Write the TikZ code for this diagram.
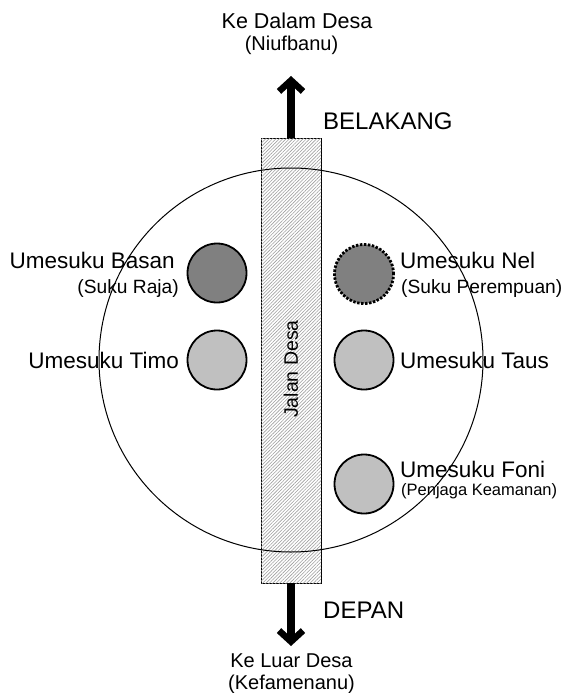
\documentclass[tikz,border=0pt]{standalone}
\usepackage{fontspec}
\setmainfont{Liberation Sans}
\usetikzlibrary{arrows.meta,patterns.meta}

\definecolor{hutdark}{HTML}{808080}
\definecolor{hutlight}{HTML}{C0C0C0}

\tikzset{
  hut/.style={circle, draw=black, line width=1.8pt, minimum size=59pt, inner sep=0pt},
  darkhut/.style={hut, fill=hutdark},
  lighthut/.style={hut, fill=hutlight},
  dottedhut/.style={darkhut, line width=2.8pt, dash pattern=on 2.4pt off 1.6pt},
  roadstrip/.style={draw=black, line width=0.9pt, fill=white,
    postaction={pattern={Lines[angle=45, distance=2.4pt, line width=0.6pt]}, pattern color=gray!75},
    minimum width=60pt, minimum height=445pt, inner sep=0pt},
  bigarrow/.style={line width=8pt,
    -{Straight Barb[length=11pt, width=24pt, line width=6.5pt, sharp]}},
  mainlbl/.style={inner sep=0pt, font=\fontsize{22.5}{27}\selectfont},
  sublbl/.style={inner sep=0pt, font=\fontsize{19.2}{23}\selectfont},
  smalllbl/.style={inner sep=0pt, font=\fontsize{16.5}{20}\selectfont},
  dirlbl/.style={inner sep=0pt, font=\fontsize{20}{24}\selectfont},
  sidelbl/.style={inner sep=0pt, font=\fontsize{24}{28}\selectfont},
}

\begin{document}
\begin{tikzpicture}[x=1pt, y=-1pt]
  \useasboundingbox (0,0) rectangle (566,693);
  \fill[white] (0,0) rectangle (566,693);

  % village road running through the settlement
  \node[roadstrip] (road) at (291,360.5) {};
  \node[rotate=90, inner sep=0pt, font=\fontsize{19.5}{23}\selectfont] (roadname) at (291,369) {Jalan Desa};

  % settlement boundary
  \node[circle, draw=black, line width=1pt, minimum size=384pt, inner sep=0pt] (village) at (291,360) {};

  % houses of the clans
  \node[darkhut]   (basan) at (217,273) {};
  \node[lighthut]  (timo)  at (217,360) {};
  \node[dottedhut] (nel)   at (364,274) {};
  \node[lighthut]  (taus)  at (364,360) {};
  \node[lighthut]  (foni)  at (364,484) {};

  % clan labels, left side
  \node[mainlbl, anchor=base east] (basanname) at (175,268) {Umesuku Basan};
  \node[sublbl,  anchor=base east] (basanrole) at (179,293) {(Suku Raja)};
  \node[mainlbl, anchor=base east] (timoname)  at (179,368) {Umesuku Timo};

  % clan labels, right side
  \node[mainlbl, anchor=base west] (nelname)  at (400,268) {Umesuku Nel};
  \node[sublbl,  anchor=base west] (nelrole)  at (401,293) {(Suku Perempuan)};
  \node[mainlbl, anchor=base west] (tausname) at (400,368) {Umesuku Taus};
  \node[mainlbl, anchor=base west] (foniname) at (400,477) {Umesuku Foni};
  \node[smalllbl, anchor=base west] (fonirole) at (401,495) {(Penjaga Keamanan)};

  % directions
  \coordinate (inward) at (291,76);
  \coordinate (outward) at (291,646);
  \draw[bigarrow] (road.north) -- (inward);
  \draw[bigarrow] (road.south) -- (outward);

  \node[dirlbl, anchor=base, font=\fontsize{21.5}{25}\selectfont] (intext) at (297,29) {Ke Dalam Desa};
  \node[dirlbl, anchor=base] (inname)  at (291.5,51) {(Niufbanu)};
  \node[sidelbl, anchor=base west] (back)  at (323,129) {BELAKANG};
  \node[sidelbl, anchor=base west] (front) at (323,618) {DEPAN};
  \node[dirlbl, anchor=base] (outtext) at (291.5,667) {Ke Luar Desa};
  \node[dirlbl, anchor=base] (outname) at (291.5,689) {(Kefamenanu)};
\end{tikzpicture}
\end{document}
